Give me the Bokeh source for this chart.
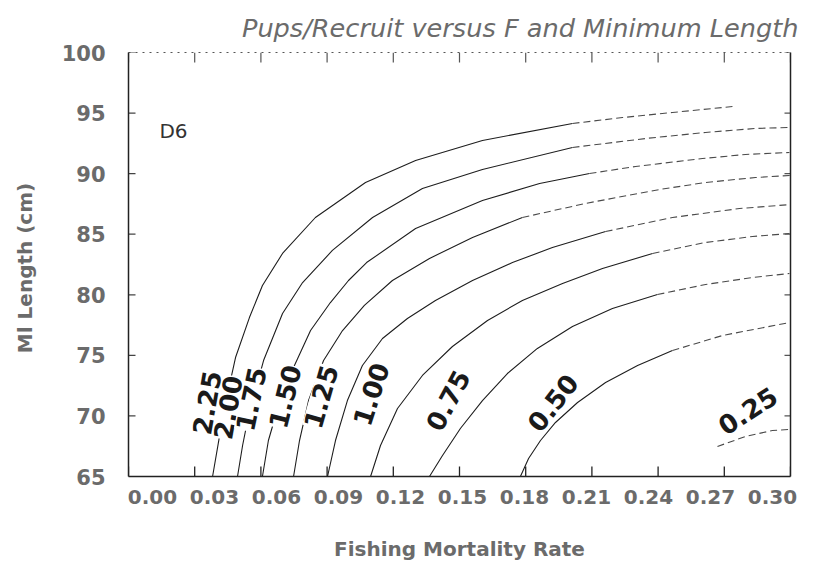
import math
from bokeh.plotting import figure
from bokeh.models import LinearAxis, Range1d, Label, FixedTicker
from bokeh.embed import file_html
from bokeh.resources import INLINE

# ---- data ----
levels = ["2.25", "2.00", "1.75", "1.50", "1.25", "1.00", "0.75", "0.50", "0.25"]

f_225 = [0.0381, 0.0417, 0.0449, 0.0485, 0.0548, 0.0607, 0.0698, 0.0847, 0.1074, 0.1301, 0.1604, 0.2012, 0.2239, 0.2465, 0.2737]
l_225 = [65.0, 68.80, 71.85, 74.82, 78.12, 80.77, 83.41, 86.38, 89.27, 91.08, 92.74, 94.14, 94.63, 95.05, 95.54]

f_200 = [0.0494, 0.0517, 0.0544, 0.0612, 0.0698, 0.0789, 0.0924, 0.1106, 0.1332, 0.1604, 0.2012, 0.2343, 0.2615, 0.2841, 0.2995]
l_200 = [65.0, 67.56, 70.03, 74.57, 78.45, 81.01, 83.66, 86.38, 88.77, 90.34, 92.16, 92.90, 93.40, 93.73, 93.81]

f_175 = [0.0607, 0.0634, 0.0680, 0.0752, 0.0825, 0.0915, 0.0997, 0.1079, 0.1301, 0.1604, 0.1863, 0.2089, 0.2298, 0.2601, 0.2796, 0.2995]
l_175 = [65.0, 67.97, 70.86, 74.16, 77.05, 79.36, 81.18, 82.66, 85.47, 87.78, 89.19, 90.01, 90.59, 91.25, 91.58, 91.75]

f_150 = [0.0748, 0.0775, 0.0816, 0.0884, 0.0970, 0.1069, 0.1196, 0.1364, 0.1559, 0.1785, 0.2071, 0.2406, 0.2615, 0.2841, 0.3000]
l_150 = [65.0, 67.97, 71.27, 74.57, 77.05, 79.12, 81.18, 83.00, 84.73, 86.38, 87.54, 88.69, 89.27, 89.68, 89.85]

f_125 = [0.0902, 0.0938, 0.0992, 0.1060, 0.1151, 0.1264, 0.1391, 0.1559, 0.1740, 0.1921, 0.2162, 0.2465, 0.2769, 0.3000]
l_125 = [65.0, 67.97, 71.27, 74.16, 76.39, 78.04, 79.53, 81.18, 82.66, 83.90, 85.22, 86.38, 87.12, 87.45]

f_100 = [0.1097, 0.1142, 0.1219, 0.1332, 0.1468, 0.1627, 0.1785, 0.1967, 0.2148, 0.2375, 0.2615, 0.2828, 0.2995]
l_100 = [65.0, 67.56, 70.61, 73.34, 75.73, 77.88, 79.53, 80.93, 82.17, 83.41, 84.32, 84.81, 85.06]

f_075 = [0.1364, 0.1423, 0.1504, 0.1604, 0.1717, 0.1853, 0.2012, 0.2193, 0.2397, 0.2615, 0.2828, 0.2995]
l_075 = [65.0, 66.73, 68.96, 71.27, 73.50, 75.57, 77.38, 78.87, 80.02, 80.85, 81.43, 81.76]

f_050 = [0.1776, 0.1813, 0.1867, 0.1935, 0.2035, 0.2162, 0.2307, 0.2465, 0.2692, 0.2995]
l_050 = [65.0, 66.49, 67.97, 69.46, 71.11, 72.76, 74.16, 75.40, 76.64, 77.71]

f_025 = [0.2669, 0.2796, 0.2918, 0.2995]
l_025 = [67.48, 68.30, 68.80, 68.88]

# F beyond which each printed contour fades into a broken trace
fade_f = [0.202, 0.230, 0.210, 0.207, 0.220, 0.240, 0.245, 0.265, 0.0]

# contour label positions (F, length) and angles (degrees)
label_f = [0.0353, 0.0449, 0.0553, 0.0707, 0.0870, 0.1097, 0.1446, 0.1921, 0.2805]
label_l = [71.10, 70.70, 71.40, 71.60, 71.60, 71.80, 71.30, 71.10, 70.45]
label_angle = [80, 80, 78, 76, 74, 72, 62, 52, 33]

x_ticks = [0.00, 0.03, 0.06, 0.09, 0.12, 0.15, 0.18, 0.21, 0.24, 0.27, 0.30]
y_ticks = [65, 70, 75, 80, 85, 90, 95, 100]

xs = [f_225, f_200, f_175, f_150, f_125, f_100, f_075, f_050, f_025]
ys = [l_225, l_200, l_175, l_150, l_125, l_100, l_075, l_050, l_025]

GRAY = "#6b6b6b"
FONT = "DejaVu Sans"
X0, X1, Y0, Y1 = 0.0, 0.30, 65, 100
FW, FH = 662, 424

p = figure(frame_width=FW, frame_height=FH,
           x_range=Range1d(X0, X1), y_range=Range1d(Y0, Y1),
           output_backend="svg", toolbar_location=None,
           min_border_left=128, min_border_top=52, min_border_right=20, min_border_bottom=40,
           title="Pups/Recruit versus F and Minimum Length")
p.outline_line_color = None
p.xgrid.visible = False
p.ygrid.visible = False
p.background_fill_color = "white"
p.border_fill_color = "white"

p.title.align = "right"
p.title.offset = -8
p.title.text_font = FONT
p.title.text_font_style = "italic"
p.title.text_font_size = "25.6px"
p.title.text_color = GRAY
p.title.standoff = 8

blank_x = {t: "" for t in x_ticks}
blank_y = {t: "" for t in y_ticks}

# bottom: axis line on data scale
xa = p.xaxis[0]
xa.ticker = FixedTicker(ticks=x_ticks)
xa.major_tick_line_color = None
xa.minor_tick_line_color = None
xa.major_label_overrides = blank_x
xa.major_label_text_font_size = "4px"
xa.major_label_standoff = 0
xa.axis_line_width = 1.5
xa.axis_line_color = "#222222"

# bottom: labels as typeset in the source
p.extra_x_ranges = {"lab": Range1d(-0.0116, 0.3087)}
xl = LinearAxis(x_range_name="lab", ticker=FixedTicker(ticks=x_ticks),
                axis_line_color=None, major_tick_line_color=None, minor_tick_line_color=None,
                major_label_standoff=1, axis_label="Fishing Mortality Rate",
                axis_label_standoff=30)
xl.major_label_overrides = {t: f"{t:.2f}" for t in x_ticks}
xl.major_label_text_font = FONT
xl.major_label_text_font_style = "bold"
xl.major_label_text_font_size = "20px"
xl.major_label_text_color = GRAY
xl.axis_label_text_font = FONT
xl.axis_label_text_font_style = "bold"
xl.axis_label_text_font_size = "20px"
xl.axis_label_text_color = GRAY
p.add_layout(xl, "below")

# left axis
ya = p.yaxis[0]
ya.ticker = FixedTicker(ticks=y_ticks)
ya.major_tick_line_color = None
ya.minor_tick_line_color = None
ya.major_label_standoff = 17
ya.major_label_text_font = FONT
ya.major_label_text_font_style = "bold"
ya.major_label_text_font_size = "21px"
ya.major_label_text_color = GRAY
ya.axis_label = "Ml  Length (cm)"
ya.axis_label_standoff = 22
ya.axis_label_text_font = FONT
ya.axis_label_text_font_style = "bold"
ya.axis_label_text_font_size = "20px"
ya.axis_label_text_color = GRAY
ya.axis_line_width = 1.5
ya.axis_line_color = "#222222"

# right axis line
ra = LinearAxis(ticker=FixedTicker(ticks=y_ticks), major_tick_line_color=None,
                minor_tick_line_color=None, major_label_overrides=blank_y,
                major_label_text_font_size="4px",
                major_label_standoff=0, axis_line_width=1.5, axis_line_color="#222222")
p.add_layout(ra, "right")

# top axis line (faint, dotted)
ta = LinearAxis(ticker=FixedTicker(ticks=x_ticks), major_tick_line_color=None,
                minor_tick_line_color=None, major_label_overrides=blank_x,
                major_label_text_font_size="4px",
                major_label_standoff=0, axis_line_color="#555555", axis_line_dash="2 5")
p.add_layout(ta, "above")

# inward tick marks at the tick positions (tick lengths given in pixels)
dy = (Y1 - Y0) / FH
dx = (X1 - X0) / FW
n_x, n_y = len(x_ticks), len(y_ticks)
p.segment(x0=x_ticks, y0=[Y0] * n_x, x1=x_ticks, y1=[Y0 + 10 * dy] * n_x,
          line_color="#222222", line_width=1.3)
p.segment(x0=x_ticks, y0=[Y1] * n_x, x1=x_ticks, y1=[Y1 - 10 * dy] * n_x,
          line_color="#555555", line_width=1.2)
p.segment(x0=[X0] * n_y, y0=y_ticks, x1=[X0 + 7 * dx] * n_y, y1=y_ticks,
          line_color="#444444", line_width=1.2)
p.segment(x0=[X1] * n_y, y0=y_ticks, x1=[X1 - 6 * dx] * n_y, y1=y_ticks,
          line_color="#555555", line_width=1.2)

# contour lines: solid where printed cleanly, broken where the print fades
solid_xs, solid_ys, faint_xs, faint_ys = [], [], [], []
for fx, ly, fade in zip(xs, ys, fade_f):
    k = sum(1 for v in fx if v <= fade)
    if k >= 2:
        solid_xs.append(fx[:k])
        solid_ys.append(ly[:k])
    start = max(k - 1, 0)
    if len(fx) - start >= 2:
        faint_xs.append(fx[start:])
        faint_ys.append(ly[start:])

p.multi_line(xs=solid_xs, ys=solid_ys, line_color="#1e1e1e", line_width=1.1)
p.multi_line(xs=faint_xs, ys=faint_ys, line_color="#4a4a4a", line_width=1.1,
             line_dash="7 4")

# contour labels
for txt, fx, ly, ang in zip(levels, label_f, label_l, label_angle):
    p.add_layout(Label(x=fx, y=ly, text=txt, angle=math.radians(ang),
                       text_align="center", text_baseline="middle",
                       text_font=FONT, text_font_style="bold", text_font_size="26px",
                       text_color="#1a1a1a", background_fill_color="white",
                       background_fill_alpha=1.0))

p.add_layout(Label(x=0.0140, y=93.56, text="D6", text_baseline="middle",
                   text_font=FONT, text_font_size="20px", text_color="#333333"))

open("out.html", "w").write(file_html(p, INLINE))
